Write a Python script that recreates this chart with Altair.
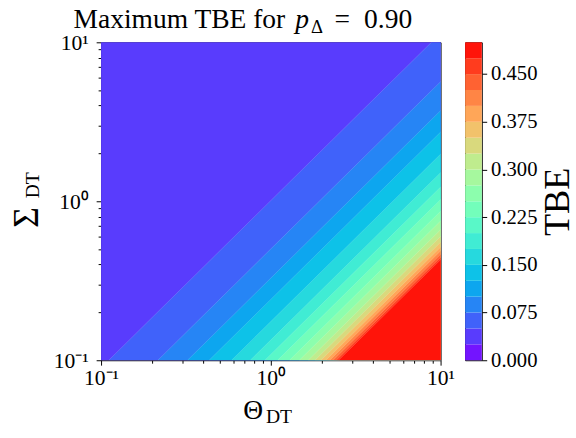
import math

import altair as alt
import pandas as pd

# Contour levels of the filled TBE map
LEVELS = [0.000, 0.025, 0.050, 0.075, 0.100, 0.125, 0.150, 0.175, 0.200, 0.225,
          0.250, 0.275, 0.300, 0.325, 0.350, 0.375, 0.400, 0.425, 0.450, 0.475, 0.500]

# Iso-TBE boundaries: Theta_DT where each level line meets Sigma_DT = 0.1 and Sigma_DT = 10
BOUNDARY_LEVELS = [0.050, 0.075, 0.100, 0.125, 0.150, 0.175, 0.200, 0.225, 0.250,
                   0.275, 0.300, 0.325, 0.350, 0.375, 0.400, 0.425, 0.450, 0.475]
THETA_AT_SIGMA_MIN = [0.111, 0.216, 0.323, 0.433, 0.587, 0.757, 0.923, 1.096, 1.288,
                      1.472, 1.660, 1.820, 1.972, 2.109, 2.223, 2.328, 2.427, 2.506]
THETA_AT_SIGMA_MAX = [8.83, 17.2, 25.6, 34.4, 46.6, 60.1, 73.3, 87.1, 102.3,
                      116.9, 131.8, 144.5, 156.6, 167.5, 176.6, 184.9, 192.8, 199.1]
BACKGROUND_LEVEL = 0.025  # band covering the upper-left of the plane

THETA_RANGE = [0.1, 10.0]
SIGMA_RANGE = [0.1, 10.0]
FILL_TO_THETA = 1000.0     # each band is filled rightwards well past the clipped edge
LOG_TICKS = [0.1, 0.2, 0.3, 0.4, 0.5, 0.6, 0.7, 0.8, 0.9,
             1, 2, 3, 4, 5, 6, 7, 8, 9, 10]
CBAR_TICKS = [0.000, 0.075, 0.150, 0.225, 0.300, 0.375, 0.450]

SERIF = "Liberation Serif"
W, H = 346, 324
CB_W = 17


def rainbow(t):
    """matplotlib-style 'rainbow' colormap."""
    r = min(1.0, abs(2 * t - 0.5))
    g = math.sin(math.pi * t)
    b = math.cos(math.pi * t / 2)
    return "#%02x%02x%02x" % tuple(int(round(max(0.0, min(1.0, c)) * 255)) for c in (r, g, b))


def key(v):
    return f"{v:.3f}"


vmin, vmax = LEVELS[0], LEVELS[-1]
band_lo = LEVELS[:-1]
band_hi = LEVELS[1:]
band_keys = [key(v) for v in band_lo]
band_colors = [rainbow(((lo + hi) / 2 - vmin) / (vmax - vmin)) for lo, hi in zip(band_lo, band_hi)]
color_scale = alt.Scale(domain=band_keys, range=band_colors)

xs = alt.Scale(type="log", domain=THETA_RANGE, nice=False)
ys = alt.Scale(type="log", domain=SIGMA_RANGE, nice=False)

major_test = "datum.value == 0.1 || datum.value == 1 || datum.value == 10"
log_label = ("datum.value == 0.1 ? '10\u207b\u00b9' : datum.value == 1 ? '10\u2070' : "
             "datum.value == 10 ? '10\u00b9' : ''")
axis_common = dict(
    values=LOG_TICKS, labelExpr=log_label, title=None, grid=False, domain=False,
    tickColor="black", tickWidth=1,
    tickSize={"condition": {"test": major_test, "value": 5}, "value": 3},
    labelFont=SERIF, labelFontSize=22, labelColor="black",
    labelFlush=False, labelOverlap=False,
)
x_axis = alt.Axis(labelPadding=3, **axis_common)
y_axis = alt.Axis(labelPadding=8, **axis_common)

# Upper-left band, filling the whole plane underneath the others
bg_df = pd.DataFrame({
    "band": [key(BACKGROUND_LEVEL)],
    "t0": [THETA_RANGE[0]], "t1": [THETA_RANGE[1]],
    "s0": [SIGMA_RANGE[0]], "s1": [SIGMA_RANGE[1]],
})
background = alt.Chart(bg_df).mark_rect().encode(
    x=alt.X("t0:Q", scale=xs, axis=x_axis),
    x2="t1:Q",
    y=alt.Y("s0:Q", scale=ys, axis=y_axis),
    y2="s1:Q",
    color=alt.Color("band:N", scale=color_scale, legend=None),
)

rows = []
for lvl, t_lo, t_hi in zip(BOUNDARY_LEVELS, THETA_AT_SIGMA_MIN, THETA_AT_SIGMA_MAX):
    rows.append({"band": key(lvl), "sigma": SIGMA_RANGE[0], "theta": t_lo, "fill_to": FILL_TO_THETA})
    rows.append({"band": key(lvl), "sigma": SIGMA_RANGE[1], "theta": t_hi, "fill_to": FILL_TO_THETA})
bands_df = pd.DataFrame(rows)

layers = [background]
for lvl in BOUNDARY_LEVELS:
    k = key(lvl)
    base = alt.Chart(bands_df).transform_filter(alt.datum.band == k)
    layers.append(
        base.mark_area(orient="horizontal", clip=True).encode(
            y=alt.Y("sigma:Q", scale=ys, axis=y_axis),
            x=alt.X("theta:Q", scale=xs, axis=x_axis),
            x2="fill_to:Q",
            color=alt.Color("band:N", scale=color_scale, legend=None),
        )
    )
    # faint seam along the contour line
    layers.append(
        base.mark_line(clip=True, color="white", opacity=0.25, strokeWidth=0.6).encode(
            y=alt.Y("sigma:Q", scale=ys, axis=y_axis),
            x=alt.X("theta:Q", scale=xs, axis=x_axis),
            order="sigma:Q",
        )
    )


def label(text, x, y, size, angle=0, style="normal"):
    return alt.Chart(pd.DataFrame({"t": [text]})).mark_text(
        font=SERIF, fontSize=size, fontStyle=style, align="left",
        baseline="alphabetic", angle=angle, color="black",
    ).encode(x=alt.value(x), y=alt.value(y), text="t:N")


texts = [
    # title
    label("Maximum TBE for", -28, -15, 28),
    label("p", 198, -15, 28, style="italic"),
    label("\u0394", 214, -9, 19),
    label("=", 238, -15, 28),
    label("0.90", 268, -15, 28),
    # x title
    label("\u0398", 145, 384, 28),
    label("DT", 168, 388, 20),
    # y title
    label("\u03a3", -64, 189, 36, angle=270),
    label("DT", -63, 159, 20, angle=270),
]

main = alt.layer(*layers, *texts).properties(width=W, height=H)

cb_df = pd.DataFrame({"band": band_keys, "lo": band_lo, "hi": band_hi})
cbar = alt.Chart(cb_df).mark_rect().encode(
    x=alt.value(0), x2=alt.value(CB_W),
    y=alt.Y("lo:Q", scale=alt.Scale(domain=[vmin, vmax], nice=False, zero=False),
            axis=alt.Axis(orient="right", values=CBAR_TICKS, format=".3f", grid=False,
                          domain=False, tickColor="black", tickSize=5, tickWidth=1,
                          labelFont=SERIF, labelFontSize=21, labelColor="black",
                          labelPadding=4, labelFlush=False, labelOverlap=False,
                          title="TBE", titleFont=SERIF, titleFontSize=37,
                          titleFontWeight="normal", titleColor="black",
                          titleAngle=270, titleAlign="center", titleBaseline="alphabetic",
                          titleX=88, titleY=H / 2)),
    y2="hi:Q",
    color=alt.Color("band:N", scale=color_scale, legend=None),
).properties(width=CB_W, height=H)

chart = alt.hconcat(main, cbar, spacing=9).properties(
    padding={"left": 9, "top": 1, "right": 0, "bottom": 0}
).configure_view(stroke="black", strokeWidth=1)

chart.save("out.html", embed_options={"renderer": "svg", "actions": False})
